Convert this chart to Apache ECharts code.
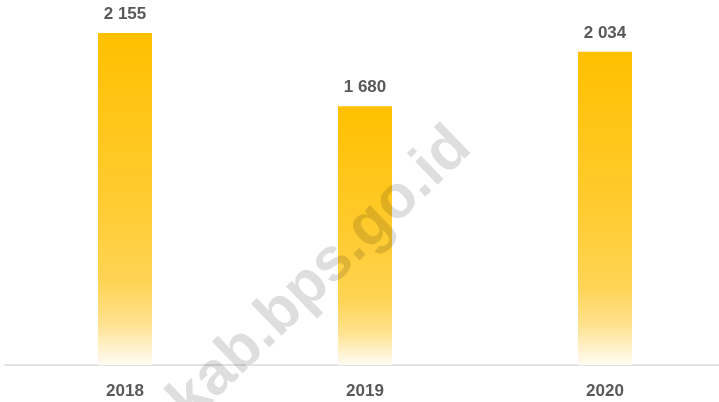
<!DOCTYPE html>
<html>
<head>
<meta charset="utf-8">
<script src="https://cdn.jsdelivr.net/npm/echarts@6/dist/echarts.min.js"></script>
<style>html,body{margin:0;padding:0;background:#fff}#c{width:719px;height:402px}</style>
</head>
<body>
<div id="c"></div>
<script>
const categories = ['2018', '2019', '2020'];
const values = [2155, 1680, 2034];
const watermarkText = 'kab.bps.go.id';

function fmt(v) { return String(v).replace(/\B(?=(\d{3})+(?!\d))/g, ' '); }

const chart = echarts.init(document.getElementById('c'), null, { renderer: 'canvas' });
const grad = new echarts.graphic.LinearGradient(0, 0, 0, 1, [
  { offset: 0, color: '#FFC000' },
  { offset: 0.5, color: '#FFCB30' },
  { offset: 0.75, color: '#FFD455' },
  { offset: 0.87, color: '#FFE18C' },
  { offset: 1, color: '#FFFCF4' }
]);
chart.setOption({
  animation: false,
  backgroundColor: '#ffffff',
  grid: { left: 5, right: -6, top: 0, bottom: 37, containLabel: false, outerBoundsMode: 'none' },
  xAxis: {
    type: 'category',
    data: categories,
    axisLine: { show: true, lineStyle: { color: '#D9D9D9', width: 1.5 } },
    axisTick: { show: false },
    axisLabel: { color: '#595959', fontFamily: 'Liberation Sans', fontWeight: 'bold', fontSize: 17, margin: 18 }
  },
  yAxis: {
    type: 'value', min: 0, max: 2370,
    show: false, splitLine: { show: false }
  },
  series: [{
    type: 'bar',
    data: values,
    barWidth: 54,
    itemStyle: { color: grad },
    label: {
      show: true, position: 'top', distance: 10,
      color: '#595959', fontFamily: 'Liberation Sans', fontWeight: 'bold', fontSize: 17,
      formatter: p => fmt(p.value)
    },
    z: 2
  }],
  graphic: [{
    type: 'text',
    x: 483, y: 160,
    rotation: 44 * Math.PI / 180,
    z: 100,
    style: {
      text: watermarkText,
      fill: 'rgba(0,0,0,0.13)',
      font: 'bold 61px "Liberation Sans"',
      textAlign: 'right',
      textVerticalAlign: 'bottom'
    }
  }]
});
</script>
</body>
</html>
